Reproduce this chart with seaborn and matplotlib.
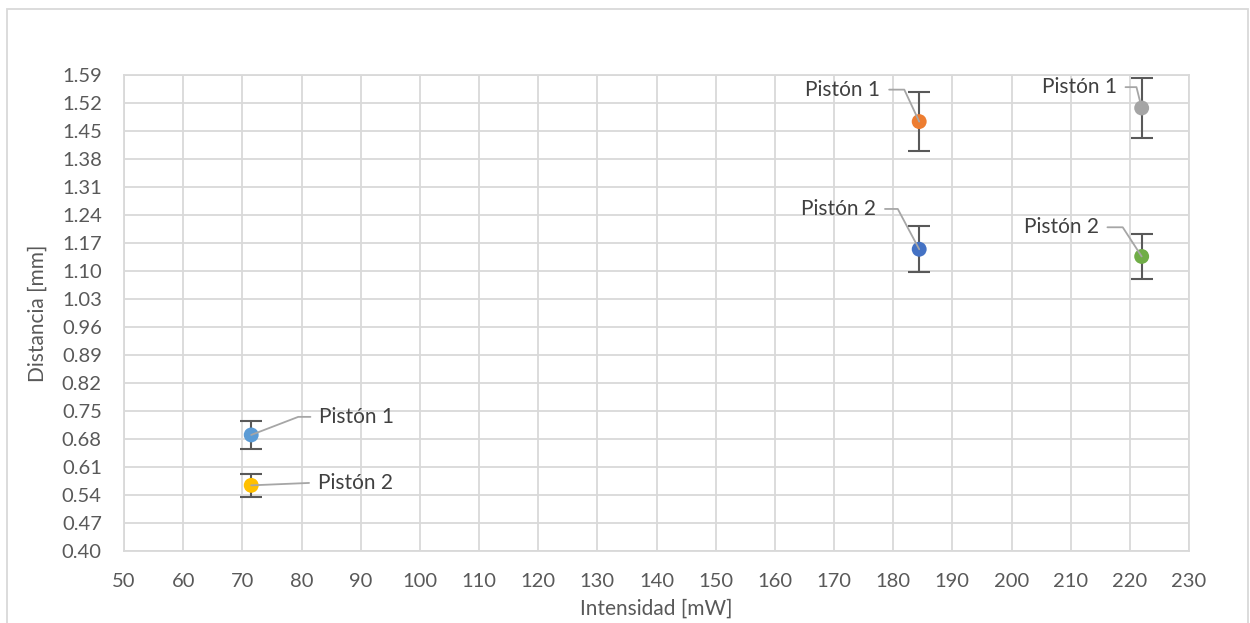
import pandas as pd
import matplotlib
matplotlib.use('Agg')
import matplotlib.pyplot as plt
import seaborn as sns
from matplotlib.patches import Rectangle

# values
intensidad = [71.5, 184.4, 222.0, 71.5, 184.4, 222.0]
distancia = [0.690, 1.473, 1.507, 0.564, 1.154, 1.136]
error = [0.034, 0.073, 0.075, 0.028, 0.058, 0.056]
piston = ['Pistón 1', 'Pistón 1', 'Pistón 1', 'Pistón 2', 'Pistón 2', 'Pistón 2']
serie = ['s1', 's2', 's3', 's4', 's5', 's6']
colores = ['#5B9BD5', '#ED7D31', '#A5A5A5', '#FFC000', '#4472C4', '#70AD47']

x_ticks = list(range(50, 231, 10))
y_ticks = [round(0.40 + 0.07 * i, 2) for i in range(18)]

df = pd.DataFrame({'Intensidad': intensidad, 'Distancia': distancia,
                   'Error': error, 'Piston': piston, 'Serie': serie})

sns.set_style('white')
plt.rcParams['font.family'] = ['Lato', 'DejaVu Sans']
gris_texto = '#595959'
gris_grid = '#D9D9D9'

fig = plt.figure(figsize=(12.5, 6.23), dpi=100)
ax = fig.add_axes([0.0992, 0.1156, 0.852, 0.7644])

ax.errorbar(df['Intensidad'], df['Distancia'], yerr=df['Error'], fmt='none',
            ecolor='#595959', elinewidth=1.5, capsize=8, capthick=1.5, zorder=2)
sns.scatterplot(data=df, x='Intensidad', y='Distancia', hue='Serie',
                palette=colores, s=115, marker='o', edgecolor='none',
                legend=False, ax=ax, zorder=3)

# label offsets (points) and leader angles
offsets = [(76, 13), (-55, 23), (-45, 15), (75, 2), (-58, 29), (-58, 21)]
angulos = [21, 115, 104, None, 118, 123]
for i, row in df.iterrows():
    dx, dy = offsets[i]
    if angulos[i] is None:
        cs = 'arc3'
    else:
        cs = f'angle,angleA=0,angleB={angulos[i]},rad=0'
    rel = (0, 0.5) if dx > 0 else (1, 0.5)
    ax.annotate(row['Piston'], xy=(row['Intensidad'], row['Distancia']),
                xytext=(dx, dy), textcoords='offset points',
                ha='center', va='center', fontsize=15, color='#404040',
                arrowprops=dict(arrowstyle='-', color='#A6A6A6', lw=1.3,
                                connectionstyle=cs, relpos=rel,
                                shrinkA=4, shrinkB=0),
                zorder=4)

ax.set_xlim(50, 230)
ax.set_ylim(0.40, 1.59)
ax.set_xticks(x_ticks)
ax.set_yticks(y_ticks)
ax.set_yticklabels([f'{v:.2f}' for v in y_ticks])
ax.grid(True, color=gris_grid, lw=1.3)
ax.set_axisbelow(True)
for sp in ax.spines.values():
    sp.set_color(gris_grid)
    sp.set_linewidth(1.3)
ax.tick_params(axis='both', length=0, labelsize=14.5, colors=gris_texto)
ax.tick_params(axis='y', pad=16)
ax.tick_params(axis='x', pad=16)

ax.set_xlabel('Intensidad [mW]', fontsize=15, color=gris_texto)
ax.set_ylabel('Distancia [mm]', fontsize=15, color=gris_texto)
ax.xaxis.set_label_coords(0.5, -0.1)
ax.yaxis.set_label_coords(-0.072, 0.5)

# outer chart frame
fig.patches.append(Rectangle((7 / 1250, -0.05), 1241 / 1250, 1.05 - 9 / 623,
                             transform=fig.transFigure, fill=False,
                             edgecolor=gris_grid, lw=1.3))

fig.savefig('out.png', dpi=100)
